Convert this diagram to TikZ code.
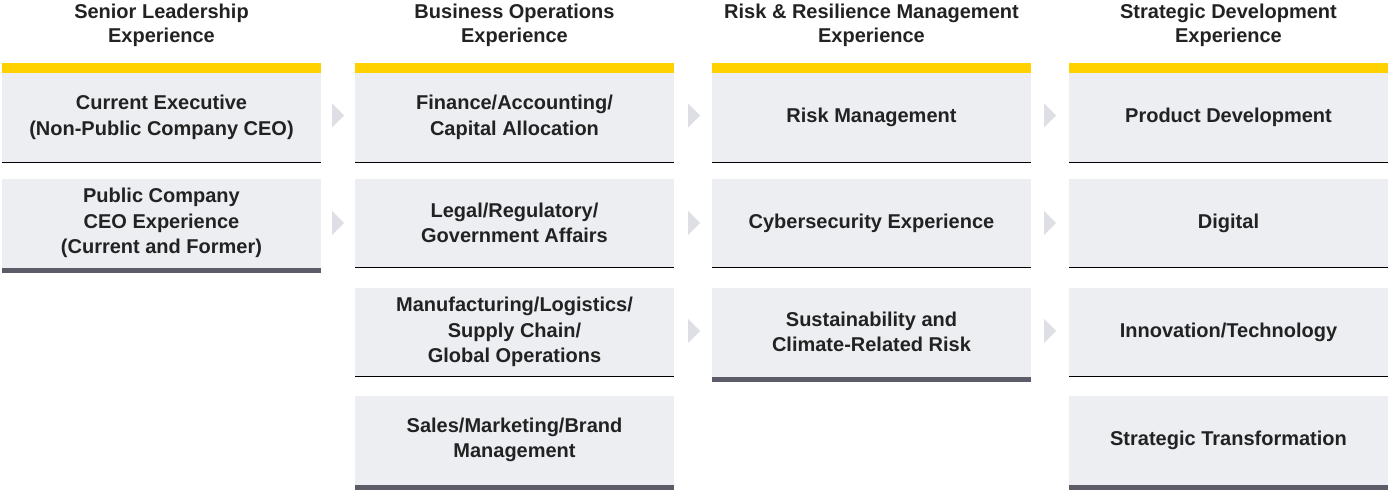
\documentclass[tikz,border=0pt]{standalone}
\usepackage{fontspec}
\setmainfont{Liberation Sans}
\definecolor{boxgray}{HTML}{ECEEF1}
\definecolor{baryellow}{HTML}{FFD100}
\definecolor{bardark}{HTML}{5B5C68}
\definecolor{chevgray}{HTML}{DDDFE4}
\definecolor{inkblack}{HTML}{222222}
\begin{document}
\begin{tikzpicture}[x=1pt, y=-1pt,
    cell/.style={fill=boxgray, minimum width=319pt, minimum height=89pt, inner sep=0pt,
      align=center, text=inkblack, font=\bfseries\fontsize{20}{25.5}\selectfont},
    head/.style={align=center, inner sep=0pt, text=inkblack,
      font=\bfseries\fontsize{20}{24.5}\selectfont},
    topbar/.style={fill=baryellow},
    endbar/.style={fill=bardark},
    rule/.style={draw=black, line width=1pt},
    chev/.style={fill=chevgray}]
  \useasboundingbox (0,0) rectangle (1390,490);
  % column headings
  \node[head] (h1) at (161.5,25.5) {Senior Leadership\\Experience};
  \node[head] (h2) at (514.5,25.5) {Business Operations\\Experience};
  \node[head] (h3) at (871.5,25.5) {Risk \& Resilience Management\\Experience};
  \node[head] (h4) at (1228.5,25.5) {Strategic Development\\Experience};
  % senior leadership
  \node[cell] (s1) at (161.5,117.5) {Current Executive\\(Non-Public Company CEO)};
  \node[cell] (s2) at (161.5,223) {Public Company\\CEO Experience\\(Current and Former)};
  % business operations
  \node[cell] (b1) at (514.5,117.5) {Finance/Accounting/\\Capital Allocation};
  \node[cell] (b2) at (514.5,223) {Legal/Regulatory/\\Government Affairs};
  \node[cell] (b3) at (514.5,332) {Manufacturing/Logistics/\\Supply Chain/\\Global Operations};
  \node[cell] (b4) at (514.5,440) {Sales/Marketing/Brand\\Management};
  % risk and resilience
  \node[cell] (r1) at (871.5,117.5) {Risk Management};
  \node[cell] (r2) at (871.5,223) {Cybersecurity Experience};
  \node[cell] (r3) at (871.5,332) {Sustainability and\\Climate-Related Risk};
  % strategic development
  \node[cell] (d1) at (1228.5,117.5) {Product Development};
  \node[cell] (d2) at (1228.5,223) {Digital};
  \node[cell] (d3) at (1228.5,332) {Innovation/Technology};
  \node[cell] (d4) at (1228.5,440) {Strategic Transformation};
  % yellow bars on top
  \fill[topbar] ([yshift=10pt]s1.north west) rectangle (s1.north east);
  \fill[topbar] ([yshift=10pt]b1.north west) rectangle (b1.north east);
  \fill[topbar] ([yshift=10pt]r1.north west) rectangle (r1.north east);
  \fill[topbar] ([yshift=10pt]d1.north west) rectangle (d1.north east);
  % thin rules under the boxes
  \draw[rule] (s1.south west) -- (s1.south east);
  \draw[rule] (b1.south west) -- (b1.south east);
  \draw[rule] (b2.south west) -- (b2.south east);
  \draw[rule] (b3.south west) -- (b3.south east);
  \draw[rule] (r1.south west) -- (r1.south east);
  \draw[rule] (r2.south west) -- (r2.south east);
  \draw[rule] (d1.south west) -- (d1.south east);
  \draw[rule] (d2.south west) -- (d2.south east);
  \draw[rule] (d3.south west) -- (d3.south east);
  % dark bars closing each column
  \fill[endbar] (s2.south west) rectangle ([yshift=-5pt]s2.south east);
  \fill[endbar] (b4.south west) rectangle ([yshift=-5pt]b4.south east);
  \fill[endbar] (r3.south west) rectangle ([yshift=-5pt]r3.south east);
  \fill[endbar] (d4.south west) rectangle ([yshift=-5pt]d4.south east);
  % chevrons between columns
  \coordinate (c11) at (338,115.5);
  \coordinate (c12) at (338,223);
  \coordinate (c21) at (694,115.5);
  \coordinate (c22) at (694,223);
  \coordinate (c23) at (694,331);
  \coordinate (c31) at (1050,115.5);
  \coordinate (c32) at (1050,223);
  \coordinate (c33) at (1050,331);
  \fill[chev] (c11) +(-6,-12) -- +(6,0) -- +(-6,12) -- cycle;
  \fill[chev] (c12) +(-6,-12) -- +(6,0) -- +(-6,12) -- cycle;
  \fill[chev] (c21) +(-6,-12) -- +(6,0) -- +(-6,12) -- cycle;
  \fill[chev] (c22) +(-6,-12) -- +(6,0) -- +(-6,12) -- cycle;
  \fill[chev] (c23) +(-6,-12) -- +(6,0) -- +(-6,12) -- cycle;
  \fill[chev] (c31) +(-6,-12) -- +(6,0) -- +(-6,12) -- cycle;
  \fill[chev] (c32) +(-6,-12) -- +(6,0) -- +(-6,12) -- cycle;
  \fill[chev] (c33) +(-6,-12) -- +(6,0) -- +(-6,12) -- cycle;
\end{tikzpicture}
\end{document}
